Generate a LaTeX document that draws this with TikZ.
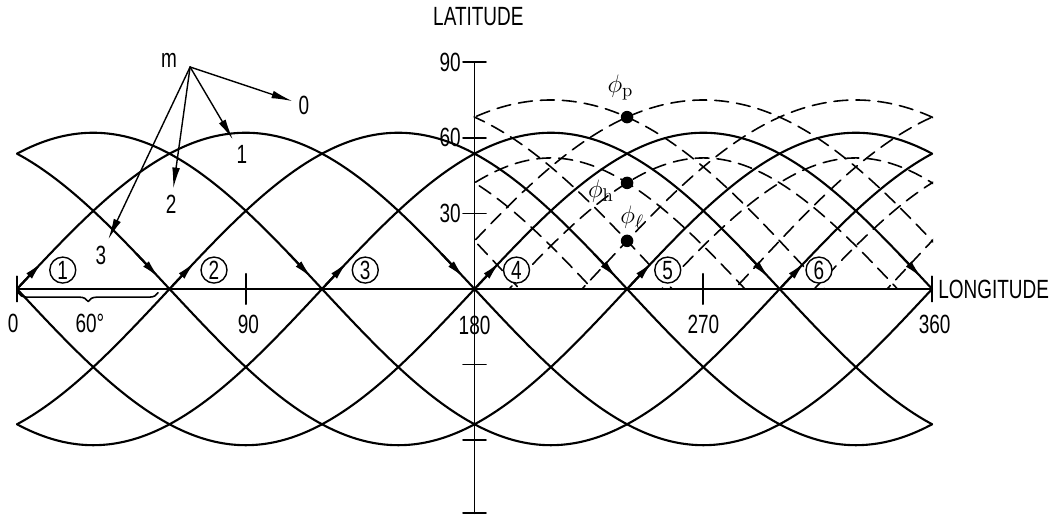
\documentclass[tikz,border=0pt]{standalone}
\usepackage{fontspec}
\newfontfamily\etiq{Liberation Sans}[FakeStretch=0.72]
\usetikzlibrary{positioning, arrows.meta, decorations.pathreplacing}

\begin{document}
\begin{tikzpicture}[x=0.05084cm, y=0.0504cm, line cap=round, line join=round, >=latex,
	font={\etiq\fontsize{15}{18}\selectfont},
	traza/.style={line width=1.2pt},
	borde/.style={line width=0.9pt, dash pattern=on 0.28cm off 0.16cm},
	punta/.style={-{Latex[length=11pt,width=4.4pt]}, line width=1.2pt},
	flecha/.style={-{Latex[length=12pt,width=4.4pt]}, line width=0.8pt},
	eje/.style={line width=1pt},
	num/.style={draw, circle, fill=white, line width=0.8pt, inner sep=0pt, minimum size=0.52cm,
		font={\etiq\fontsize{15}{18}\selectfont}},
	punto/.style={circle, fill=black, inner sep=0pt, minimum size=0.25cm}]
	
	% Parámetros fundamentales
	\def\amp{62}       % Latitud máxima de las trazas
	\def\pend{1.0821}  % Pendiente de la traza en el nodo (\amp*pi/180)
	\def\cobn{13}      % Ancho de cobertura al norte de la traza
	\def\cobs{10}      % Ancho de cobertura al sur de la traza
	
	\useasboundingbox (-6.69,-90.08) rectangle (408.34,114.68);
	
	% --- Trazas de los seis planos orbitales ---
	\foreach \nodo in {0,60,...,300}
	\draw[traza] plot[domain=0:360, samples=121, smooth] (\x, {\amp*sin(\x-\nodo)});
	
	% --- Sentido de recorrido (nodo ascendente y descendente) ---
	\foreach \nodo in {0,60,...,300} {
		\draw[punta] (\nodo+1, {\amp*sin(1)}) -- (\nodo+10, {\amp*sin(10)});
		\draw[punta] (\nodo+47, {\amp*sin(13)}) -- (\nodo+56, {\amp*sin(4)});
	}
	
	% --- Bordes de cobertura (solo entre 180 y 360) ---
	\begin{scope}
		\clip (179.6,0) rectangle (360.4,90);
		\foreach \nodo in {0,60,...,300} {
			% borde norte
			\draw[borde] plot[domain=160:380, samples=111, smooth]
			({\x-\cobn*\pend*cos(\x-\nodo)/veclen(1,\pend*cos(\x-\nodo))},
			{\amp*sin(\x-\nodo)+\cobn/veclen(1,\pend*cos(\x-\nodo))});
			% borde sur
			\draw[borde] plot[domain=160:380, samples=111, smooth]
			({\x+\cobs*\pend*cos(\x-\nodo)/veclen(1,\pend*cos(\x-\nodo))},
			{\amp*sin(\x-\nodo)-\cobs/veclen(1,\pend*cos(\x-\nodo))});
		}
	\end{scope}
	
	% --- Ejes ---
	\draw[eje] (0,0) -- (360,0);
	\draw[eje] (0,-5) -- (0,5);
	\draw[eje] (360,-5) -- (360,5);
	\draw[eje] (90,-6) -- (90,6);
	\draw[eje] (270,-6) -- (270,6);
	\draw[eje] (180,-89) -- (180,90);
	\foreach \y in {90,60,30,-30,-60,-89}
	\draw[eje] (175.5,\y) -- (184.5,\y);
	
	\node (latitud) at (181.5,108.3) {LATITUDE};
	\node[anchor=west] (longitud) at (360,0) {LONGITUDE};
	\node[anchor=east] (lat90) at (177,90) {90};
	\node[anchor=east] (lat60) at (177,60) {60};
	\node[anchor=east] (lat30) at (177,30) {30};
	\node (lon0) at (-1.5,-13.5) {0};
	\node (lon90) at (91,-14) {90};
	\node (lon180) at (180,-14.5) {180};
	\node (lon270) at (270,-14) {270};
	\node (lon360) at (361,-14) {360};
	
	% Separación entre nodos
	\draw[decorate, decoration={brace, mirror, amplitude=5pt}, line width=0.9pt]
	(0.5,-1.5) -- (55.5,-1.5);
	\node (sep) at (28.7,-13.5) {60°};
	
	% --- Numeración de los planos ---
	\foreach \i/\lon in {1/18,2/77.5,3/137,4/196.5,5/256,6/315.5}
	\node[num] (plano\i) at (\lon,7.5) {\i};
	
	% --- Número de satélites visibles ---
	\coordinate (msrc) at (68.1,88.1);
	\node[left=0.14cm of msrc, yshift=0.14cm] (mlab) {m};
	\node (vis0) at (112.9,73) {0};
	\node (vis1) at (88.5,53.2) {1};
	\node (vis2) at (60.6,33.7) {2};
	\node (vis3) at (33,13.5) {3};
	\foreach \v in {0,1,2,3}
	\draw[flecha] (msrc) -- (vis\v);
	
	% --- Latitudes características ---
	\node[punto] (php) at (240,68.2) {};
	\node[punto] (phh) at (240,42.1) {};
	\node[punto] (phl) at (240,19.1) {};
	\node (lphp) at (237.4,80) {$\phi_{\mathrm{p}}$};
	\node (lphh) at (229.7,39) {$\phi_{\mathrm{h}}$};
	\node (lphl) at (242,28.5) {$\phi_{\ell}$};
	
\end{tikzpicture}
\end{document}
